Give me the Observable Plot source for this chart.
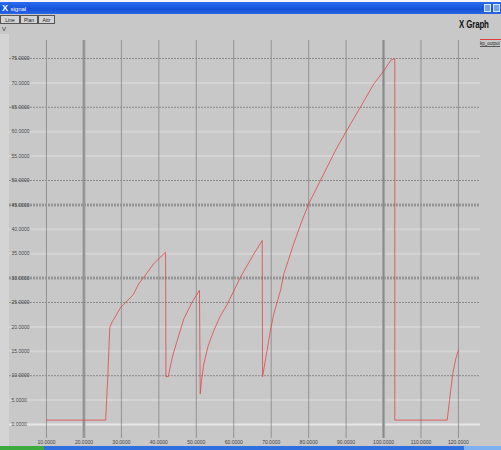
<!DOCTYPE html>
<html>
<head>
<meta charset="utf-8">
<script src="https://cdn.jsdelivr.net/npm/d3@7"></script>
<script src="https://cdn.jsdelivr.net/npm/@observablehq/plot@0.6"></script>
<style>
  body { margin:0; width:501px; height:450px; overflow:hidden; position:relative; background:#c8c8c8; font-family:"Liberation Sans", Arial, sans-serif; }
  #chart { position:absolute; left:0; top:0; }
  .abs { position:absolute; }
  .btn { position:absolute; top:15px; height:9px; border:1px solid #555; background:#d4d4d4; font-size:5px; line-height:9px; color:#222; text-align:center; box-sizing:border-box; }
</style>
</head>
<body>
<div id="chart"></div>
<div class="abs" style="left:0;top:0;width:501px;height:2px;background:#f4f4f4"></div>
<div class="abs" style="left:0;top:2px;width:501px;height:12px;background:linear-gradient(#2a6cf0,#1552d8 60%,#2a66e6)"></div>
<div class="abs" style="left:2px;top:2px;font-size:9px;color:#fff;line-height:12px;font-weight:bold">X <span style="font-size:6px;font-weight:normal">signal</span></div>
<div class="abs" style="left:484px;top:4px;width:7px;height:8px;background:#6fa0f5;border:1px solid #dfe8ff;box-sizing:border-box"></div>
<div class="abs" style="left:493px;top:4px;width:7px;height:8px;background:#6fa0f5;border:1px solid #dfe8ff;box-sizing:border-box"></div>
<div class="btn" style="left:0;width:20px">Line</div>
<div class="btn" style="left:20px;width:18px">Plan</div>
<div class="btn" style="left:38px;width:17px">Attr</div>
<div class="abs" style="left:2px;top:26px;font-size:6px;color:#333">V</div>
<div class="abs" style="left:459px;top:18px;font-size:11px;color:#111;font-weight:bold;transform:scaleX(0.72);transform-origin:left top;letter-spacing:-0.2px">X Graph</div>
<div class="abs" style="left:480px;top:39px;width:21px;height:1px;background:#e04040"></div>
<div class="abs" style="left:480px;top:41px;font-size:4.5px;color:#222;border-bottom:1px solid #555;line-height:5px">kp_output</div>
<div class="abs" style="left:0;top:34px;width:9px;height:412px;background:#d4d4d4"></div>
<div class="abs" style="left:0;top:446px;width:44px;height:4px;background:#3caa3c"></div>
<div class="abs" style="left:44px;top:446px;width:420px;height:4px;background:#2f6fe0"></div>
<div class="abs" style="left:464px;top:446px;width:37px;height:4px;background:#7fb0f0"></div>
<script>
// Signal trace
const xs = [10, 25.8, 26.4, 26.9, 27.5, 28.0, 29.8, 30.6, 32.9, 33.3, 34.6, 36.0, 38.6, 40.0, 41.8,
            41.9, 42.5, 43.6, 44.9, 46.7, 48.9, 50.85,
            51.05, 51.4, 52.0, 53.2, 54.7, 56.4, 58.3, 61.8, 65.4, 67.6,
            67.7, 68.9, 69.8, 70.7, 72.5, 73.4, 76.0, 78.0, 80.0, 83.6, 87.6, 91.2, 93.8, 97.4, 100.1, 101.9, 103.0,
            103.0, 117.0, 117.6, 118.5, 119.3, 120.0];
const ys = [0.9, 0.9, 10.4, 19.9, 21.0, 21.6, 24.0, 24.6, 26.4, 26.8, 28.8, 30.2, 32.9, 34.0, 35.3,
            9.8, 9.8, 13.8, 17.2, 21.7, 25.1, 27.5,
            6.3, 9.0, 12.4, 16.2, 19.3, 22.2, 24.7, 30.2, 35.0, 37.7,
            9.8, 15.2, 19.3, 22.7, 27.5, 30.9, 37.0, 41.3, 45.2, 50.7, 56.8, 61.6, 65.0, 69.8, 72.5, 74.6, 75.0,
            0.9, 0.9, 4.9, 10.5, 13.5, 15.2];

const xTicks = [10, 20, 30, 40, 50, 60, 70, 80, 90, 100, 110, 120];
const xThickGrid = [20, 100];
const yTicks = [0, 5, 10, 15, 20, 25, 30, 35, 40, 45, 50, 55, 60, 65, 70, 75];
const yDarkGrid = [75, 65, 50, 25, 10];
const yThickGrid = [45, 30];
const yLightGrid = [70, 60, 55, 40, 35, 20, 15, 5];
const yZero = [0];

const data = xs.map((x, i) => ({x, y: ys[i]}));
const fmt = d3.format(".4f");

const chart = Plot.plot({
  width: 501,
  height: 450,
  marginTop: 40,
  marginBottom: 12,
  marginLeft: 9,
  marginRight: 21,
  style: {background: "transparent", fontFamily: "Liberation Sans, Arial, sans-serif", fontSize: "5px", color: "#333"},
  x: {domain: [0.12, 125.89], axis: null},
  y: {domain: [-2.87, 78.69], axis: null},
  marks: [
    Plot.frame({fill: "#c8c8c8", stroke: null}),
    Plot.ruleY(yLightGrid, {stroke: "#d4d4d4", strokeWidth: 2}),
    Plot.ruleY(yZero, {stroke: "#e8e8e8", strokeWidth: 2}),
    Plot.ruleX(xThickGrid, {stroke: "#a4a4a4", strokeWidth: 3}),
    Plot.ruleX(xTicks, {stroke: "#7c7c7c", strokeWidth: 0.7}),
    Plot.ruleY(yThickGrid, {stroke: "#959595", strokeWidth: 3, strokeDasharray: "2,1"}),
    Plot.ruleY(yDarkGrid, {stroke: "#8a8a8a", strokeWidth: 1, strokeDasharray: "2,1"}),
    Plot.line(data, {x: "x", y: "y", stroke: "#e04040", strokeOpacity: 0.75, strokeWidth: 1}),
    Plot.axisY(yTicks, {anchor: "left", tickSize: 0, tickPadding: -2, textAnchor: "start", tickFormat: fmt, label: null, fontSize: 5, fill: "#444"}),
    Plot.axisX(xTicks, {anchor: "bottom", tickSize: 0, tickPadding: 2, tickFormat: fmt, label: null, fontSize: 5, fill: "#444"})
  ]
});
document.getElementById("chart").appendChild(chart);
</script>
</body>
</html>
